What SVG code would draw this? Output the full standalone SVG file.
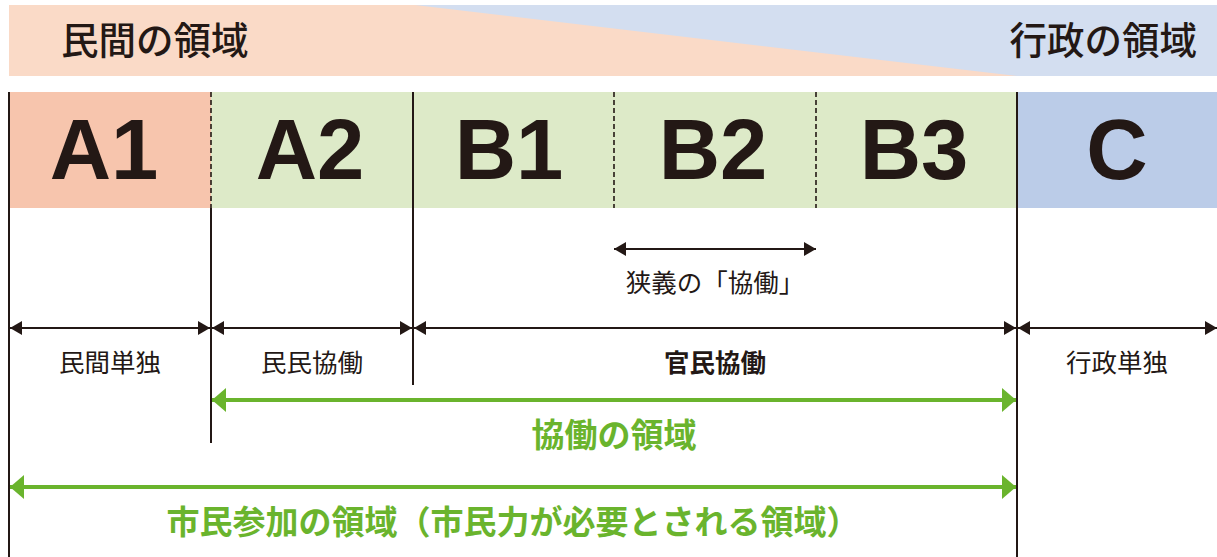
<svg xmlns="http://www.w3.org/2000/svg" width="1217" height="557" viewBox="0 0 1217 557">
<style>
.jp{font-family:"Noto Sans CJK JP","Noto Sans",sans-serif;fill:#231815}
.title{font-size:37.5px;font-weight:500}
.cell{font-family:"Liberation Sans",Arial,sans-serif;font-weight:bold;font-size:85px;fill:#231815;text-anchor:middle}
.lab{font-size:25.5px;text-anchor:middle}
.glab{font-size:33px;font-weight:bold;fill:#6AB42D;text-anchor:middle}
.v{stroke:#231815;stroke-width:2;fill:none}
.dash{stroke:#231815;stroke-width:1.6;stroke-dasharray:5,3;fill:none}
.ba{stroke:#231815;stroke-width:2;fill:none;marker-start:url(#bh);marker-end:url(#bh)}
.ga{stroke:#6AB42D;stroke-width:4;fill:none;marker-start:url(#gh);marker-end:url(#gh)}
</style>
<defs>
<marker id="bh" markerUnits="userSpaceOnUse" viewBox="0 0 12 14" refX="12" refY="7" markerWidth="12" markerHeight="14" orient="auto-start-reverse"><path d="M0,0 L12,7 L0,14 Z" fill="#231815"/></marker>
<marker id="gh" markerUnits="userSpaceOnUse" viewBox="0 0 14 24" refX="14" refY="12" markerWidth="14" markerHeight="24" orient="auto-start-reverse"><path d="M0,0 L14,12 L0,24 Z" fill="#6AB42D"/></marker>
</defs>

<g id="band">
<rect x="9" y="5" width="1208" height="71" fill="#FADAC7"/>
<polygon points="415,5 1217,5 1217,76 1017,76" fill="#D3DEF0"/>
<text class="jp title" x="61" y="54">民間の領域</text>
<text class="jp title" x="1197" y="54" text-anchor="end">行政の領域</text>
</g>

<g id="cells">
<rect x="9" y="92" width="202" height="116" fill="#F7C5AD"/>
<rect x="211" y="92" width="806" height="116" fill="#DDEAC8"/>
<rect x="1017" y="92" width="200" height="116" fill="#BBCCE8"/>
</g>
<g id="A1"><text class="cell" x="104" y="179">A1</text></g>
<g id="A2"><text class="cell" x="310" y="179">A2</text></g>
<g id="B1"><text class="cell" x="509" y="179">B1</text></g>
<g id="B2"><text class="cell" x="713" y="179">B2</text></g>
<g id="B3"><text class="cell" x="914" y="179">B3</text></g>
<g id="C"><text class="cell" x="1117" y="179">C</text></g>

<g id="lines">
<line class="v" x1="9" y1="92" x2="9" y2="557"/>
<line class="dash" x1="211" y1="92" x2="211" y2="208"/>
<line class="v" x1="211" y1="208" x2="211" y2="443"/>
<line class="v" x1="413" y1="92" x2="413" y2="385"/>
<line class="dash" x1="614" y1="92" x2="614" y2="208"/>
<line class="dash" x1="816" y1="92" x2="816" y2="208"/>
<line class="v" x1="1017" y1="92" x2="1017" y2="557"/>
</g>

<g id="connectors">
<line class="ba" x1="614" y1="249" x2="816" y2="249"/>
<line class="ba" x1="10" y1="328" x2="210" y2="328"/>
<line class="ba" x1="212" y1="328" x2="412" y2="328"/>
<line class="ba" x1="414" y1="328" x2="1016" y2="328"/>
<line class="ba" x1="1018" y1="328" x2="1217" y2="328"/>
<line class="ga" x1="212" y1="400" x2="1016" y2="400"/>
<line class="ga" x1="10" y1="487" x2="1016" y2="487"/>
</g>

<g id="labels">
<text class="jp lab" x="715" y="292">狭義の「協働」</text>
<text class="jp lab" x="110" y="372">民間単独</text>
<text class="jp lab" x="312" y="372">民民協働</text>
<text class="jp lab" x="715" y="372" font-weight="bold">官民協働</text>
<text class="jp lab" x="1117" y="372">行政単独</text>
<text class="jp glab" x="614" y="447">協働の領域</text>
<text class="jp glab" x="513" y="534">市民参加の領域（市民力が必要とされる領域）</text>
</g>
</svg>
